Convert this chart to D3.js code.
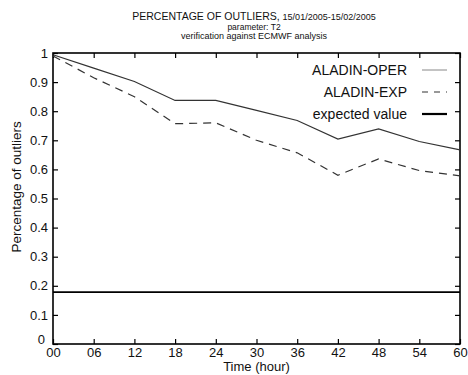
<!DOCTYPE html>
<html>
<head>
<meta charset="utf-8">
<script src="https://cdn.jsdelivr.net/npm/d3@7/dist/d3.min.js"></script>
<style>
  body { margin: 0; background: #fff; }
  text { font-family: "Liberation Sans", Arial, sans-serif; fill: #111; }
</style>
</head>
<body>
<div id="chart"></div>
<script>
// data
const hours = [0, 6, 12, 18, 24, 30, 36, 42, 48, 54, 60];
const aladinOper = [0.994, 0.948, 0.902, 0.837, 0.837, 0.803, 0.768, 0.704, 0.739, 0.696, 0.667];
const aladinExp = [0.99, 0.915, 0.85, 0.757, 0.76, 0.70, 0.657, 0.58, 0.636, 0.596, 0.578];
const expectedValue = 0.178;
const xTickLabels = ['00', '06', '12', '18', '24', '30', '36', '42', '48', '54', '60'];
const yTicks = [0, 0.1, 0.2, 0.3, 0.4, 0.5, 0.6, 0.7, 0.8, 0.9, 1];
const legendNames = ['ALADIN-OPER', 'ALADIN-EXP', 'expected value'];

const width = 468, height = 375;
const margin = { top: 53, right: 8, bottom: 31, left: 53 };

const svg = d3.select('#chart').append('svg')
  .attr('width', width)
  .attr('height', height);

const x = d3.scaleLinear().domain([0, 60]).range([margin.left, width - margin.right]);
const y = d3.scaleLinear().domain([0, 1]).range([height - margin.bottom, margin.top]);

/* ---------- titles ---------- */
const title = svg.append('text')
  .attr('x', 254).attr('y', 20)
  .attr('text-anchor', 'middle');
title.append('tspan').attr('font-size', 10.5).text('PERCENTAGE OF OUTLIERS, ');
title.append('tspan').attr('font-size', 9).text('15/01/2005-15/02/2005');

svg.append('text')
  .attr('x', 254).attr('y', 30)
  .attr('text-anchor', 'middle')
  .attr('font-size', 8.5)
  .text('parameter: T2');

svg.append('text')
  .attr('x', 254).attr('y', 39)
  .attr('text-anchor', 'middle')
  .attr('font-size', 9)
  .text('verification against ECMWF analysis');

/* ---------- axes, ticks inside on all four sides ---------- */
const fmtX = (d, i) => xTickLabels[i];
svg.append('g')
  .attr('transform', 'translate(0,' + y(0) + ')')
  .call(d3.axisBottom(x).tickValues(hours).tickSize(-5).tickPadding(4).tickFormat(fmtX))
  .call(g => g.select('.domain').remove())
  .call(g => g.selectAll('text').attr('font-size', 13))
  .call(g => g.selectAll('line').attr('stroke-width', 1.2));

svg.append('g')
  .attr('transform', 'translate(0,' + y(1) + ')')
  .call(d3.axisTop(x).tickValues(hours).tickSize(-5).tickFormat(''))
  .call(g => g.select('.domain').remove())
  .call(g => g.selectAll('line').attr('stroke-width', 1.2));

svg.append('g')
  .attr('transform', 'translate(' + x(0) + ',0)')
  .call(d3.axisLeft(y).tickValues(yTicks).tickSize(-5).tickPadding(5).tickFormat(d3.format('')))
  .call(g => g.select('.domain').remove())
  .call(g => g.selectAll('text').attr('font-size', 13))
  .call(g => g.selectAll('line').attr('stroke-width', 1.2))
  // lift the "0" so it clears the "00" of the time axis
  .call(g => g.selectAll('.tick').filter(d => d === 0).select('text').attr('dy', '-0.05em').attr('x', -8));

svg.append('g')
  .attr('transform', 'translate(' + x(60) + ',0)')
  .call(d3.axisRight(y).tickValues(yTicks).tickSize(-5).tickFormat(''))
  .call(g => g.select('.domain').remove())
  .call(g => g.selectAll('line').attr('stroke-width', 1.2));

// frame
svg.append('rect')
  .attr('x', x(0)).attr('y', y(1))
  .attr('width', x(60) - x(0)).attr('height', y(0) - y(1))
  .attr('fill', 'none')
  .attr('stroke', '#000')
  .attr('stroke-width', 1.6);

/* ---------- axis labels ---------- */
svg.append('text')
  .attr('x', (x(0) + x(60)) / 2).attr('y', 371)
  .attr('text-anchor', 'middle')
  .attr('font-size', 13)
  .text('Time (hour)');

svg.append('text')
  .attr('transform', 'translate(21,' + (y(0.54)) + ') rotate(-90)')
  .attr('text-anchor', 'middle')
  .attr('font-size', 13.5)
  .text('Percentage of outliers');

/* ---------- series ---------- */
const line = d3.line()
  .x((d, i) => x(hours[i]))
  .y(d => y(d));

svg.append('path')
  .datum(aladinOper)
  .attr('d', line)
  .attr('fill', 'none')
  .attr('stroke', '#333')
  .attr('stroke-width', 1.2);

svg.append('path')
  .datum(aladinExp)
  .attr('d', line)
  .attr('fill', 'none')
  .attr('stroke', '#333')
  .attr('stroke-width', 1.2)
  .attr('stroke-dasharray', '8,6');

svg.append('line')
  .attr('x1', x(0)).attr('x2', x(60))
  .attr('y1', y(expectedValue)).attr('y2', y(expectedValue))
  .attr('stroke', '#000')
  .attr('stroke-width', 1.8);

/* ---------- legend ---------- */
const legendStyles = [
  { stroke: '#888', width: 1, dash: null },
  { stroke: '#333', width: 1.2, dash: '6,6' },
  { stroke: '#000', width: 2.2, dash: null }
];
const legend = svg.append('g');
legendNames.forEach((name, i) => {
  const ly = 70 + i * 22;
  legend.append('text')
    .attr('x', 407).attr('y', ly + 5)
    .attr('text-anchor', 'end')
    .attr('font-size', 14)
    .text(name);
  legend.append('line')
    .attr('x1', 422).attr('x2', 447)
    .attr('y1', ly).attr('y2', ly)
    .attr('stroke', legendStyles[i].stroke)
    .attr('stroke-width', legendStyles[i].width)
    .attr('stroke-dasharray', legendStyles[i].dash);
});
</script>
</body>
</html>
